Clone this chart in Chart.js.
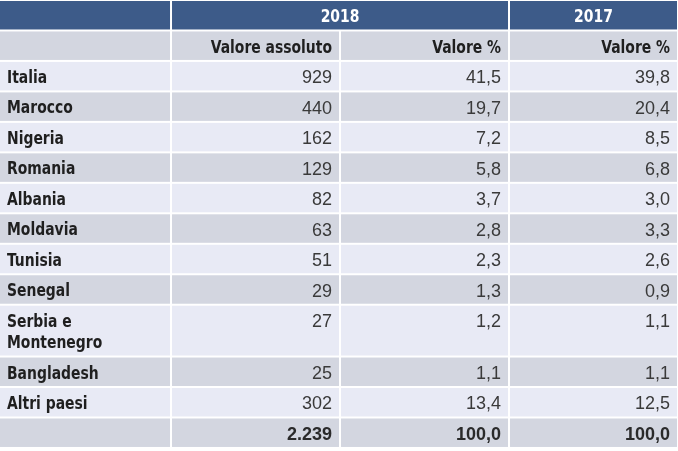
<!DOCTYPE html>
<html><head><meta charset="utf-8">
<script src="https://cdn.jsdelivr.net/npm/chart.js@4/dist/chart.umd.min.js"></script>
<style>html,body{margin:0;padding:0;background:#fff;}</style>
</head><body>
<canvas id="c" width="678" height="451"></canvas>
<script>
// ---- data ----
const countries = ['Italia','Marocco','Nigeria','Romania','Albania','Moldavia','Tunisia','Senegal',['Serbia e','Montenegro'],'Bangladesh','Altri paesi'];
const absolute2018 = [929,440,162,129,82,63,51,29,27,25,302];
const pct2018 = [41.5,19.7,7.2,5.8,3.7,2.8,2.3,1.3,1.2,1.1,13.4];
const pct2017 = [39.8,20.4,8.5,6.8,3.0,3.3,2.6,0.9,1.1,1.1,12.5];
const totals = [2239, 100.0, 100.0];
const yearHeaders = ['2018','2017'];
const columnHeaders = ['Valore assoluto','Valore %','Valore %'];

// ---- formatting ----
const fmtInt = n => String(n).replace(/\B(?=(\d{3})+(?!\d))/g, '.');
const fmtDec = n => n.toFixed(1).replace('.', ',');

// ---- styles ----
const BLUE = '#3d5b89', GRAY = '#d3d6e0', LIGHT = '#e8eaf5';
const LABEL_FONT = {font: 'bold 18px "DejaVu Sans Condensed", "DejaVu Sans", sans-serif', sx: 0.86};
const NUM_FONT = {font: '18px "Liberation Sans", Arial, sans-serif', sx: 1};
const NUM_BOLD = {font: 'bold 18px "Liberation Sans", Arial, sans-serif', sx: 1};
const EXTRA_LINE = 0.7; // row units per additional text line

// ---- build table rows (cells: [colStart, colEnd, text, align, font, color]) ----
const rows = [];
rows.push({bg: BLUE, cells: [[0,1,'','left'],[1,3,yearHeaders[0],'center',LABEL_FONT,'#ffffff'],[3,4,yearHeaders[1],'center',LABEL_FONT,'#ffffff']]});
rows.push({bg: GRAY, cells: [[0,1,'','left'],[1,2,columnHeaders[0],'right',LABEL_FONT,'#1f1f1f'],[2,3,columnHeaders[1],'right',LABEL_FONT,'#1f1f1f'],[3,4,columnHeaders[2],'right',LABEL_FONT,'#1f1f1f']]});
countries.forEach((c, i) => {
  rows.push({bg: i % 2 === 0 ? LIGHT : GRAY, cells: [
    [0,1,c,'left',LABEL_FONT,'#1f1f1f'],
    [1,2,fmtInt(absolute2018[i]),'right',NUM_FONT,'#3a3a3a'],
    [2,3,fmtDec(pct2018[i]),'right',NUM_FONT,'#3a3a3a'],
    [3,4,fmtDec(pct2017[i]),'right',NUM_FONT,'#3a3a3a']]});
});
rows.push({bg: GRAY, cells: [[0,1,'','left'],[1,2,fmtInt(totals[0]),'right',NUM_BOLD,'#2a2a2a'],[2,3,fmtDec(totals[1]),'right',NUM_BOLD,'#2a2a2a'],[3,4,fmtDec(totals[2]),'right',NUM_BOLD,'#2a2a2a']]});

let acc = 0;
rows.forEach(r => {
  const lines = Math.max(...r.cells.map(c => Array.isArray(c[2]) ? c[2].length : 1));
  r.top = acc; r.h = 1 + (lines - 1) * EXTRA_LINE; acc += r.h;
});
const totalUnits = acc;

function drawText(ctx, t, x, y, align, f) {
  ctx.save();
  ctx.font = f.font;
  const w = ctx.measureText(t).width * f.sx;
  let left = align === 'left' ? x : align === 'right' ? x - w : x - w / 2;
  ctx.translate(left, y);
  ctx.scale(f.sx, 1);
  ctx.textAlign = 'left';
  ctx.textBaseline = 'middle';
  ctx.fillText(t, 0, 0);
  ctx.restore();
}

const tablePlugin = {
  id: 'table',
  beforeDatasetsDraw(chart) {
    const {ctx, scales: {x, y}} = chart;
    ctx.save();
    rows.forEach(r => {
      const y0 = y.getPixelForValue(r.top), y1 = y.getPixelForValue(r.top + r.h);
      r.cells.forEach(c => {
        const x0 = c[0] === 0 ? x.left - 1 : x.getPixelForValue(c[0]);
        const x1 = x.getPixelForValue(c[1]);
        ctx.fillStyle = r.bg;
        ctx.fillRect(x0 + 1, y0 + 1, x1 - x0 - 2, y1 - y0 - 2);
        if (!c[2]) return;
        ctx.fillStyle = c[5];
        const lines = Array.isArray(c[2]) ? c[2] : [c[2]];
        lines.forEach((t, li) => {
          const ty = y.getPixelForValue(r.top + 0.57 + li * EXTRA_LINE);
          if (c[3] === 'left') drawText(ctx, t, x0 + 8, ty, 'left', c[4]);
          else if (c[3] === 'right') drawText(ctx, t, x1 - 8, ty, 'right', c[4]);
          else drawText(ctx, t, (x0 + x1) / 2, ty, 'center', c[4]);
        });
      });
    });
    ctx.restore();
  }
};

new Chart(document.getElementById('c'), {
  type: 'scatter',
  data: { datasets: [{ data: [] }] },
  options: {
    responsive: false, animation: false,
    layout: { padding: 0 },
    plugins: { legend: { display: false }, tooltip: { enabled: false } },
    scales: {
      x: { type: 'linear', min: -0.012, max: 4, display: false },
      y: { type: 'linear', min: 0, max: totalUnits + 0.1, reverse: true, display: false }
    }
  },
  plugins: [tablePlugin]
});
</script>
</body></html>
